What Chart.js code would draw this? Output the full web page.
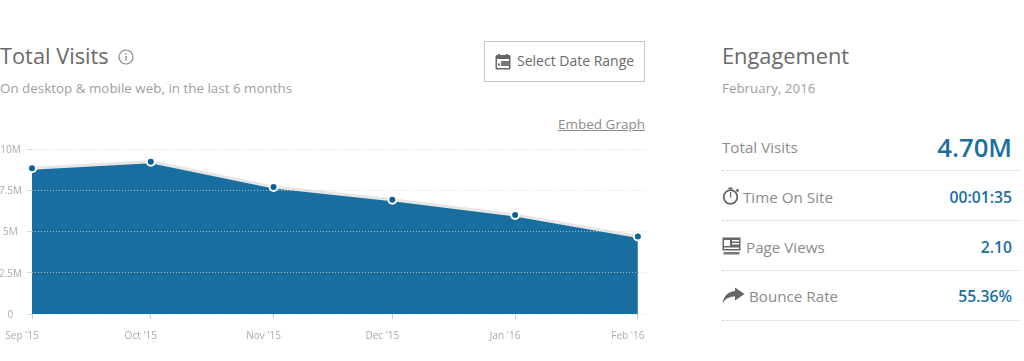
<!DOCTYPE html>
<html>
<head>
<meta charset="utf-8">
<script src="https://cdn.jsdelivr.net/npm/chart.js@4/dist/chart.umd.min.js"></script>
<style>
  html, body { margin: 0; padding: 0; background: #fff; }
  body { width: 1024px; height: 361px; position: relative; overflow: hidden; font-family: "Open Sans", sans-serif; color: #666; }
  .t { position: absolute; white-space: nowrap; line-height: 1; }
  .title { font-size: 21.8px; color: #6a6a6a; }
  .sub { font-size: 13.4px; color: #a0a0a0; }
  .btn { position: absolute; left: 484px; top: 41px; width: 159px; height: 39px; border: 1px solid #c6c6c6; }
  .embed { font-size: 13.5px; color: #8c8c8c; text-decoration: underline; }
  .row-label { font-size: 15.2px; color: #8c8c8c; }
  .row-value { font-size: 15.7px; font-weight: 600; color: #1a6f9f; right: 12px; }
  .big { font-size: 25.7px; }
  .rule { position: absolute; left: 722px; width: 298px; border-top: 1px dotted #ccc; }
  svg { position: absolute; }
  #chart { position: absolute; left: 0; top: 130px; }
</style>
</head>
<body>
<div class="t title" style="left:0;top:45px">Total Visits</div>
<svg style="left:118px;top:49px" width="16" height="16" viewBox="0 0 16 16"><circle cx="8" cy="8" r="7" fill="none" stroke="#888" stroke-width="1.2"/><rect x="7.4" y="7" width="1.3" height="4.5" fill="#888"/><rect x="7.4" y="4.4" width="1.3" height="1.5" fill="#888"/></svg>
<div class="t sub" style="left:0;top:82px">On desktop &amp; mobile web, in the last 6 months</div>

<div class="btn"></div>
<svg style="left:495px;top:53px" width="16" height="17" viewBox="0 0 16 17"><rect x="0.5" y="2" width="15" height="14.5" rx="1.5" fill="#666"/><rect x="2" y="6" width="12" height="9" fill="#fff"/><rect x="3" y="1" width="2" height="3" fill="#666"/><rect x="11" y="1" width="2" height="3" fill="#666"/><rect x="3" y="10.500" width="2" height="2" fill="#666"/><rect x="6" y="8" width="8" height="5" fill="#777"/></svg>
<div class="t" style="left:517px;top:54px;font-size:14px;color:#6a6a6a">Select Date Range</div>
<div class="t embed" style="left:558px;top:118px">Embed Graph</div>

<div class="t title" style="left:722px;top:45px">Engagement</div>
<div class="t sub" style="left:722px;top:82px">February, 2016</div>

<div class="t row-label" style="left:722px;top:140px">Total Visits</div>
<div class="t row-value big" id="v0" style="top:135px"></div>
<div class="rule" style="top:170px"></div>

<svg style="left:722px;top:187px" width="18" height="18" viewBox="0 0 18 18"><circle cx="8.500" cy="10" r="6.800" fill="none" stroke="#666" stroke-width="1.800"/><rect x="6.500" y="0.500" width="4" height="1.800" fill="#666"/><rect x="8" y="5" width="1.200" height="5.500" fill="#666"/><circle cx="15.500" cy="3.500" r="1.400" fill="#666"/></svg>
<div class="t row-label" style="left:743px;top:190px">Time On Site</div>
<div class="t row-value" id="v1" style="top:190px"></div>
<div class="rule" style="top:220px"></div>

<svg style="left:722px;top:237px" width="19" height="18" viewBox="0 0 19 18"><rect x="0.500" y="0.500" width="18" height="13" fill="#666"/><rect x="2" y="3" width="6" height="6" fill="#fff"/><rect x="10" y="3" width="7" height="1.500" fill="#fff"/><rect x="10" y="6" width="7" height="1.500" fill="#fff"/><rect x="2" y="10.500" width="15" height="1.500" fill="#fff"/><rect x="1.500" y="15" width="16" height="2.500" fill="#777"/></svg>
<div class="t row-label" style="left:746px;top:240px">Page Views</div>
<div class="t row-value" id="v2" style="top:240px"></div>
<div class="rule" style="top:270px"></div>

<svg style="left:722px;top:287px" width="23" height="17" viewBox="0 0 23 17"><path d="M13 0.500 L22.500 7 L13 13.500 V9.500 C7 9.500 3.500 11.500 0.500 16.500 C1.500 9.500 6 4.500 13 4 Z" fill="#666"/></svg>
<div class="t row-label" style="left:749px;top:289px">Bounce Rate</div>
<div class="t row-value" id="v3" style="top:289px"></div>
<div class="rule" style="top:320px;border-color:#c5dcc5"></div>

<canvas id="chart" width="660" height="220"></canvas>

<script>
// months sit on a real date axis, so spacing follows the day counts
const months = ["Sep '15", "Oct '15", "Nov '15", "Dec '15", "Jan '16", "Feb '16"];
const monthDays = [0, 30, 61, 91, 122, 153];
const visits = [8.83, 9.23, 7.7, 6.93, 6.0, 4.7];
const yTicks = [0, 2.5, 5, 7.5, 10];
const yTickLabels = ['0', '2.5M', '5M', '7.5M', '10M'];
const engagementValues = ['4.70M', '00:01:35', '2.10', '55.36%'];

engagementValues.forEach((val, i) => {
  document.getElementById('v' + i).textContent = val;
});

const points = monthDays.map((d, i) => ({ x: d, y: visits[i] }));
const tickFont = { family: '"Open Sans", sans-serif', size: 10 };

new Chart(document.getElementById('chart').getContext('2d'), {
  type: 'line',
  data: {
    datasets: [{
      data: points,
      fill: true,
      backgroundColor: '#186e9e',
      borderColor: '#e6e6e6',
      borderWidth: 3,
      tension: 0,
      clip: false,
      pointRadius: 4,
      pointBorderWidth: 2,
      pointBackgroundColor: '#0b6297',
      pointBorderColor: '#fff',
    }],
  },
  options: {
    responsive: false,
    animation: false,
    layout: { padding: { top: 19, right: 15 } },
    plugins: { legend: { display: false }, tooltip: { enabled: false } },
    scales: {
      x: {
        type: 'linear',
        min: 0,
        max: 154.8,
        afterBuildTicks: (scale) => {
          scale.ticks = monthDays.map((d) => ({ value: d }));
        },
        // labels hang left of their ticks, so no extra room is needed on the sides
        afterFit: (scale) => {
          scale.height = 36;
          scale.paddingLeft = 0;
          scale.paddingRight = 0;
        },
        border: { display: false },
        grid: { drawOnChartArea: false, color: '#ccc', tickLength: 5 },
        ticks: {
          autoSkip: false,
          maxRotation: 0,
          padding: 11,
          labelOffset: -10,
          color: '#aaa',
          font: tickFont,
          callback: (v) => months[monthDays.indexOf(v)],
        },
      },
      y: {
        min: 0,
        max: 10,
        afterBuildTicks: (scale) => {
          scale.ticks = yTicks.map((v) => ({ value: v }));
        },
        afterFit: (scale) => {
          scale.width = 32;
          scale.paddingTop = 0;
          scale.paddingBottom = 0;
        },
        border: { display: false, dash: [1, 2] },
        grid: { z: 1, color: 'rgba(205,205,205,0.8)', tickLength: 5 },
        ticks: {
          padding: 5,
          labelOffset: 1,
          crossAlign: 'center',
          color: '#aaa',
          font: tickFont,
          callback: (v) => yTickLabels[yTicks.indexOf(v)],
        },
      },
    },
  },
});
</script>
</body>
</html>
